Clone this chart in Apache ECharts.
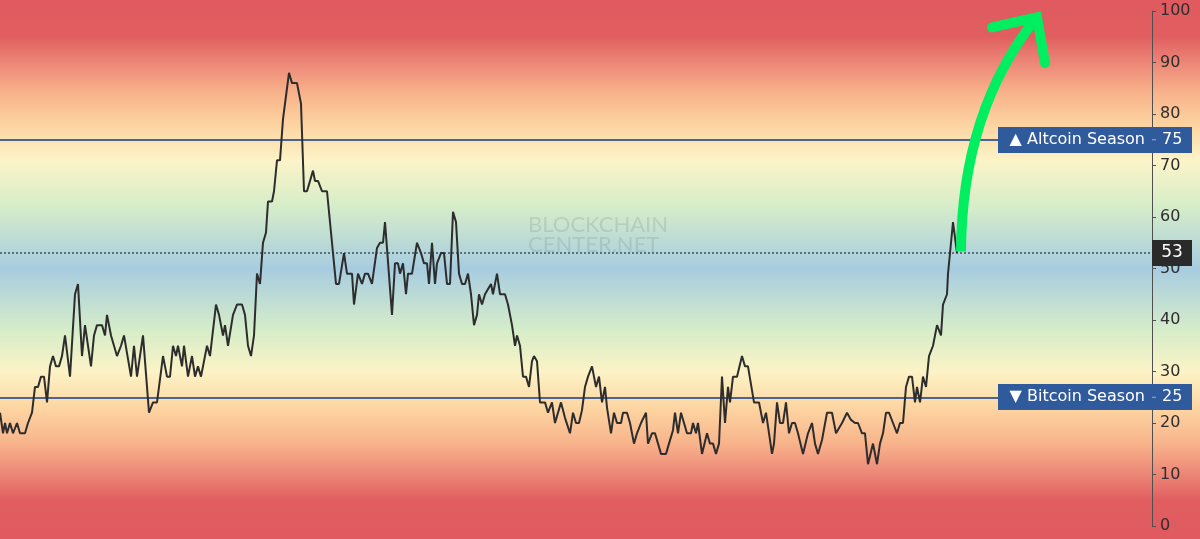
<!DOCTYPE html>
<html><head><meta charset="utf-8">
<script src="https://cdn.jsdelivr.net/npm/echarts@6/dist/echarts.min.js"></script>
<style>html,body{margin:0;padding:0;background:#fff}#c{width:1200px;height:539px}</style>
</head><body><div id="c"></div>
<script>
// ---- data (day offset, altcoin season index) ----
const days = [
 0,3,5,7,10,13,15,17,20,25,28,32,35,38,41,44,47,50,53,56,59,
 62,65,70,75,78,82,85,91,94,97,102,105,107,111,117,121,124,126,
 131,134,137,143,149,153,157,163,167,170,173,176,178,182,184,188,192,195,198,
 201,205,207,210,216,219,223,225,228,233,237,242,245,248,251,254,257,
 260,263,266,268,272,274,277,280,283,287,289,292,297,301,304,307,
 313,315,318,322,327,332,336,339,344,347,352,354,358,362,365,368,
 372,374,377,380,383,385,392,395,398,400,403,406,408,412,
 417,421,424,427,429,432,435,437,441,444,447,450,453,456,459,462,465,
 468,471,474,477,479,482,485,487,491,493,497,500,505,508,512,515,517,520,
 523,526,529,532,534,537,540,545,548,552,555,561,565,570,573,576,579,
 582,585,588,592,596,599,602,605,607,611,614,617,621,623,627,630,
 634,637,641,643,646,648,652,655,661,666,669,673,675,678,681,684,687,
 691,693,696,698,702,707,710,713,716,719,722,725,728,730,733,737,742,
 745,748,754,759,763,766,772,774,777,780,783,786,789,792,795,798,
 803,808,812,815,818,822,827,832,836,838,842,844,847,851,855,858,
 862,865,868,873,877,880,883,886,889,893,895,897,900,903,906,909,912,
 915,917,920,923,926,929,933,937,941,943,947,948,951,953,955,957
];
const altIndex = [
 22,18,20,18,20,18,18,20,18,18,20,22,27,27,29,29,24,31,33,31,31,
 33,37,29,45,47,33,39,31,37,39,39,37,41,37,33,35,37,37,
 29,35,29,37,22,24,24,33,29,29,35,33,35,31,35,29,33,29,31,
 29,33,35,33,43,41,37,39,35,41,43,43,41,35,33,37,49,
 47,55,57,63,63,65,71,71,79,85,88,86,86,82,65,65,
 69,67,67,65,65,55,47,47,53,49,49,43,49,47,49,49,
 47,47,54,55,55,59,41,51,51,49,51,45,49,49,
 55,53,51,51,47,55,47,51,53,53,47,47,61,59,49,47,47,
 49,45,39,41,45,43,45,45,47,45,49,45,45,43,39,35,37,35,
 29,29,27,32,33,32,24,24,22,24,20,24,21,18,22,20,20,
 22.5,27,29,31,27,29,24,27,23,18,22,20,20,22,22,20,
 16,18,20,20,22,16,18,18,14,14,16,18.6,22,18,22,20,18,
 18,20,18,20,14,18,16,16,14,16,29,20,27,24,29,29,33,
 31,31,24,24,20,22,14,16,24,20,20,24,18,20,20,18,
 14,18,20,16,14,16.7,22,22,18,18,20,20,22,20.6,20,20,
 18,18,12,16,12,16,18,22,22,20,20,18,20,20,27,29,29,
 24,27,24,29,27,33,35,39,37,43,45,49,55,59,56,53
];
const yTicks = [0,10,20,30,40,50,60,70,80,90,100];
const altcoinLevel = 75;
const bitcoinLevel = 25;
const currentValue = 53;
const altcoinLabel = '▲ Altcoin Season';
const bitcoinLabel = '▼ Bitcoin Season';
const watermark = ['BLOCKCHAIN', 'CENTER.NET'];

const n = Math.min(days.length, altIndex.length);
const seriesData = [];
for (let i = 0; i < n; i++) seriesData.push([days[i], altIndex[i]]);

const FONT = '"DejaVu Sans", Verdana, sans-serif';
const chart = echarts.init(document.getElementById('c'), null, {renderer: 'canvas'});

chart.setOption({
  animation: false,
  grid: {left: 0, right: 48, top: 11, bottom: 13},
  xAxis: {type: 'value', min: 0, max: 1152, show: false},
  yAxis: {
    type: 'value', position: 'right', min: yTicks[0], max: yTicks[yTicks.length - 1], interval: 10,
    axisLine: {show: true, onZero: false, lineStyle: {color: '#4f4f4f', width: 1}},
    axisTick: {show: true, length: 4, lineStyle: {color: '#4f4f4f'}},
    axisLabel: {color: '#2e2e2e', fontSize: 16, fontFamily: FONT, margin: 8},
    splitLine: {show: false}
  },
  series: [{
    type: 'line', data: seriesData, showSymbol: false, symbol: 'none', z: 5,
    lineStyle: {color: '#2d2d2d', width: 2},
    markLine: {
      silent: true, symbol: 'none', label: {show: false}, animation: false,
      data: [
        {yAxis: altcoinLevel, lineStyle: {color: '#4a6591', width: 2, type: 'solid'}},
        {yAxis: bitcoinLevel, lineStyle: {color: '#4a6591', width: 2, type: 'solid'}},
        {yAxis: currentValue, lineStyle: {color: '#3e5263', width: 1.5, type: [2, 2]}}
      ]
    }
  }]
});

function px(x, y) { return chart.convertToPixel({seriesIndex: 0}, [x, y]); }
const H = 539, W = 1200;
const bgStops = [
  [103, '#e05a5f'], [95, '#e15e60'], [90, '#ec8677'], [84, '#f8b38b'], [78, '#fdd3a0'],
  [71, '#fcf4c8'], [62, '#d6edc9'], [50, '#a7cce0'], [38, '#d6edc9'], [30, '#fcf3c6'],
  [23, '#fdd6a2'], [16, '#f8b38b'], [10, '#ec8677'], [5, '#e15e60'], [-3, '#e05a5f']
];
const colorStops = bgStops.map(s => ({
  offset: Math.max(0, Math.min(1, px(0, s[0])[1] / H)), color: s[1]
}));

const yA = px(0, altcoinLevel)[1];
const yB = px(0, bitcoinLevel)[1];
const yC = px(0, currentValue)[1];
const axisX = px(1152, 0)[0];

function seasonLabel(text, value, yc) {
  return [
    {type: 'rect', z: 100, shape: {x: 998, y: Math.round(yc) - 13, width: 194, height: 26},
     style: {fill: '#2f5a9c'}},
    {type: 'text', z: 101, x: axisX - 7, y: yc, style: {text: text, fill: '#ffffff',
     font: '16px ' + FONT, align: 'right', verticalAlign: 'middle'}},
    {type: 'line', z: 101, shape: {x1: axisX, y1: yc, x2: axisX + 4, y2: yc},
     style: {stroke: '#9fb2d2', lineWidth: 1}},
    {type: 'text', z: 101, x: axisX + 10, y: yc, style: {text: String(value), fill: '#ffffff',
     font: '16px ' + FONT, align: 'left', verticalAlign: 'middle'}}
  ];
}

// arrow anchor points in data space (day, value)
const arrowStart = [961, 53.3], arrowCtrl = [962, 80.8], arrowTip = [1037, 98.8];
const headLeft = [992, 96.8], headRight = [1045, 89.9];
const pS = px(...arrowStart), pC = px(...arrowCtrl), pT = px(...arrowTip);
const pL = px(...headLeft), pR = px(...headRight);

const graphics = [
  {type: 'rect', z: -10, silent: true, shape: {x: 0, y: 0, width: W, height: H},
   style: {fill: new echarts.graphic.LinearGradient(0, 0, 0, 1, colorStops)}},
  {type: 'text', z: 1, x: 528, y: 214, silent: true, style: {text: watermark[0],
   fill: 'rgba(105,120,120,0.2)', font: '22px Lato, "Open Sans", sans-serif'}},
  {type: 'text', z: 1, x: 528, y: 234, silent: true, style: {text: watermark[1],
   fill: 'rgba(105,120,120,0.2)', font: '22px Lato, "Open Sans", sans-serif'}},
  ...seasonLabel(altcoinLabel, altcoinLevel, yA),
  ...seasonLabel(bitcoinLabel, bitcoinLevel, yB),
  {type: 'rect', z: 100, shape: {x: axisX, y: Math.round(yC) - 13, width: 40, height: 26},
   style: {fill: '#2a2a2a'}},
  {type: 'text', z: 101, x: axisX + 20, y: yC, style: {text: String(currentValue), fill: '#ffffff',
   font: '17px ' + FONT, align: 'center', verticalAlign: 'middle'}},
  {type: 'bezierCurve', z: 50, shape: {x1: pS[0], y1: pS[1], cpx1: pC[0], cpy1: pC[1], x2: pT[0], y2: pT[1]},
   style: {stroke: '#00ee5f', lineWidth: 10, fill: null, lineCap: 'butt'}},
  {type: 'polyline', z: 50, shape: {points: [pL, pT, pR]},
   style: {stroke: '#00ee5f', lineWidth: 10, fill: null, lineCap: 'round', lineJoin: 'miter'}}
];
chart.setOption({graphic: graphics});
</script>
</body></html>
